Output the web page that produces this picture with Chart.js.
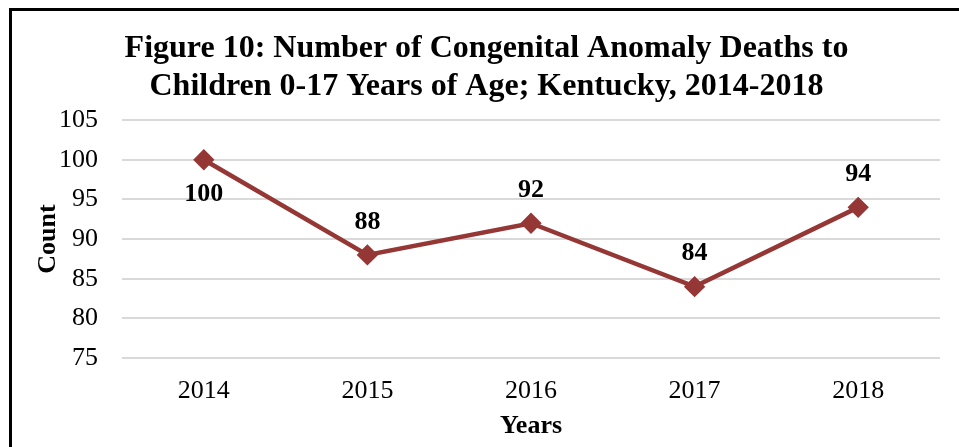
<!DOCTYPE html>
<html>
<head>
<meta charset="utf-8">
<script src="https://cdn.jsdelivr.net/npm/chart.js@4.4.0/dist/chart.umd.min.js"></script>
<style>
  html, body { margin: 0; padding: 0; background: #fff; }
  #wrap { position: relative; width: 959px; height: 447px; overflow: hidden; }
  #frame {
    position: absolute; left: 9px; top: 8px; width: 1000px; height: 1000px;
    border-left: 3px solid #000; border-top: 3px solid #000; box-sizing: border-box;
  }
  canvas { position: absolute; left: 0; top: 0; }
</style>
</head>
<body>
<div id="wrap">
  <div id="frame"></div>
  <canvas id="chart" width="959" height="447"></canvas>
</div>
<script>
// Données du graphique
const years = ['2014', '2015', '2016', '2017', '2018'];
const deaths = [100, 88, 92, 84, 94];
const yTicks = [75, 80, 85, 90, 95, 100, 105];
const titleLines = ['Figure 10: Number of Congenital Anomaly Deaths to', 'Children 0-17 Years of Age; Kentucky, 2014-2018'];

const serif = "'Liberation Serif', 'Times New Roman', serif";
const lineColor = '#953735';

// Étiquettes de valeurs (la première sous le point, les autres au-dessus)
const valueLabels = {
    id: 'valueLabels',
    afterDatasetsDraw(chart) {
        const ctx = chart.ctx;
        const meta = chart.getDatasetMeta(0);
        ctx.save();
        ctx.font = 'bold 26px ' + serif;
        ctx.fillStyle = '#000';
        ctx.textAlign = 'center';
        ctx.textBaseline = 'middle';
        meta.data.forEach((pt, i) => {
            const dy = i === 0 ? 34 : -33;
            ctx.fillText(String(deaths[i]), pt.x, pt.y + dy);
        });
        ctx.restore();
    }
};

const ctx = document.getElementById('chart').getContext('2d');
const chart = new Chart(ctx, {
    type: 'line',
    data: {
        labels: years,
        datasets: [{
            label: 'Count',
            data: deaths,
            borderColor: lineColor,
            backgroundColor: lineColor,
            borderWidth: 4.5,
            pointStyle: 'rectRot',
            pointRadius: 7.5,
            pointHoverRadius: 7.5,
            tension: 0
        }]
    },
    options: {
        responsive: false,
        animation: false,
        layout: {
            padding: { left: 33, right: 19, top: 30, bottom: 7 }
        },
        plugins: {
            legend: { display: false },
            tooltip: { enabled: false },
            title: {
                display: true,
                text: titleLines,
                color: '#000',
                font: { family: serif, size: 32, weight: 'bold', lineHeight: 1.19 },
                padding: { top: 0, bottom: 14 }
            }
        },
        scales: {
            x: {
                offset: true,
                grid: { display: false, drawTicks: false },
                border: { display: false },
                afterFit(scale) { scale.height = 82; },
                ticks: {
                    color: '#000',
                    padding: 18,
                    font: { family: serif, size: 26 }
                },
                title: {
                    display: true,
                    text: 'Years',
                    color: '#000',
                    font: { family: serif, size: 26, weight: 'bold' },
                    padding: { top: 0, bottom: -2 }
                }
            },
            y: {
                min: 75,
                max: 105,
                afterBuildTicks(scale) {
                    scale.ticks = yTicks.map(v => ({ value: v }));
                },
                afterFit(scale) { scale.width = 89; },
                grid: {
                    color: '#d9d9d9',
                    lineWidth: 2,
                    drawTicks: false
                },
                border: { display: false },
                ticks: {
                    color: '#000',
                    padding: 24,
                    font: { family: serif, size: 26 }
                },
                title: {
                    display: true,
                    text: 'Count',
                    color: '#000',
                    font: { family: serif, size: 26, weight: 'bold' },
                    padding: { top: 0, bottom: 0 }
                }
            }
        }
    },
    plugins: [valueLabels]
});
</script>
</body>
</html>
